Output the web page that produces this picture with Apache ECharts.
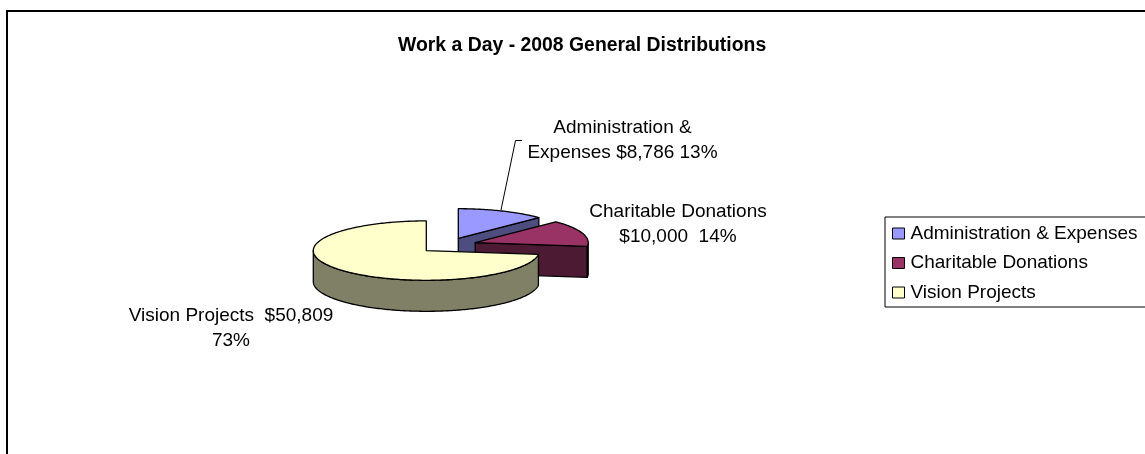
<!DOCTYPE html>
<html>
<head>
<meta charset="utf-8">
<style>html,body{margin:0;padding:0;background:#fff;overflow:hidden}#c{width:1145px;height:454px}</style>
<script src="https://cdn.jsdelivr.net/npm/echarts@6/dist/echarts.min.js"></script>
</head>
<body>
<div id="c"></div>
<script>
const titleText = 'Work a Day - 2008 General Distributions';
const categories = ['Administration & Expenses', 'Charitable Donations', 'Vision Projects'];
const values = [8786, 10000, 50809];
const labelTexts = ['Administration &\nExpenses $8,786 13%', 'Charitable Donations\n$10,000  14%', 'Vision Projects  $50,809\n73%'];

const topColors = ['#9999FF', '#993366', '#FFFFCC'];
const sideColors = ['#4D4D80', '#4D1A33', '#808066'];
const FONT = '"Liberation Sans", Arial, sans-serif';
const RX = 113, RY = 29.7, DEPTH = 31;
const centers = [[458.3, 238.4], [475.2, 242.6], [426.3, 250.6]];
const labelPos = [[622.5, 140.5], [678, 224], [231, 328]];
const leader = [[522, 140.5], [515.5, 140.5], [501, 210]];

const total = values.reduce((a, b) => a + b, 0);
const startAngles = [];
values.reduce((acc, v, i) => { startAngles[i] = acc; return acc + v / total * 360; }, 0);

function pt(c, deg, drop) {
  const r = deg * Math.PI / 180;
  return [c[0] + RX * Math.sin(r), c[1] - RY * Math.cos(r) + (drop || 0)];
}
function arc(c, a, b, drop) {
  const out = [], n = Math.max(2, Math.ceil(Math.abs(b - a)));
  for (let i = 0; i <= n; i++) out.push(pt(c, a + (b - a) * i / n, drop));
  return out;
}
function poly(points, fill, z) {
  return { type: 'polygon', shape: { points }, z2: z,
    style: { fill, stroke: '#000', lineWidth: 1.3, lineJoin: 'round' } };
}
function renderSlice(i) {
  return function (params, api) {
    const a0 = startAngles[i], a1 = a0 + api.value(0) / total * 360, c = centers[i];
    const kids = [];
    const low = [c[0], c[1] + DEPTH];
    if (a1 < 180) {
      kids.push(poly([c, pt(c, a1), pt(c, a1, DEPTH), low], sideColors[i], 1));
    }
    const f0 = Math.max(a0, 90), f1 = Math.min(a1, 270);
    if (f1 > f0) {
      kids.push(poly(arc(c, f0, f1, 0).concat(arc(c, f1, f0, DEPTH)), sideColors[i], 2));
    }
    kids.push(poly([c].concat(arc(c, a0, a1, 0)), topColors[i], 3));
    kids.push({ type: 'text', x: labelPos[i][0], y: labelPos[i][1], z2: 5,
      style: { text: labelTexts[i], fill: '#000', font: '19px ' + FONT, lineHeight: 24.7,
        align: 'center', verticalAlign: 'middle', textAlign: 'center', textVerticalAlign: 'middle' } });
    if (i === 0) {
      kids.push({ type: 'polyline', z2: 5, shape: { points: leader },
        style: { fill: null, stroke: '#000', lineWidth: 1 } });
    }
    return { type: 'group', children: kids };
  };
}

const chart = echarts.init(document.getElementById('c'), null, { renderer: 'canvas', width: 1145, height: 454 });
chart.setOption({
  animation: false,
  backgroundColor: '#fff',
  title: {
    text: titleText, left: 398, top: 36, padding: 0,
    textStyle: { fontFamily: FONT, fontSize: 19.4, fontWeight: 'bold', color: '#000' }
  },
  legend: {
    left: 885, top: 217,
    orient: 'vertical', selectedMode: false, icon: 'rect',
    itemWidth: 12, itemHeight: 11, itemGap: 10.5,
    padding: [7, 40, 5, 7],
    borderColor: '#000', borderWidth: 1, backgroundColor: '#fff',
    textStyle: { fontFamily: FONT, fontSize: 19, color: '#000', padding: [0, 0, 0, 1] },
    data: categories.map((name, i) => ({
      name, itemStyle: { color: topColors[i], borderColor: '#000', borderWidth: 1 }
    }))
  },
  graphic: [{
    type: 'polyline', silent: true,
    shape: { points: [[7, 454], [7, 11], [1145, 11]] },
    style: { fill: null, stroke: '#000', lineWidth: 2 }
  }],
  series: categories.map((name, i) => ({
    type: 'custom', name, coordinateSystem: 'none', silent: true,
    itemStyle: { color: topColors[i] },
    data: [[values[i]]],
    renderItem: renderSlice(i)
  }))
});
</script>
</body>
</html>
